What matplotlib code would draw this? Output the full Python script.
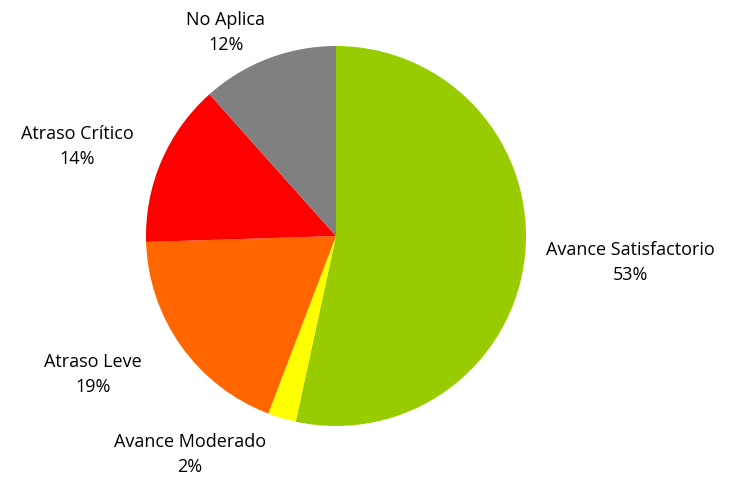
import matplotlib
matplotlib.use("Agg")
from matplotlib import pyplot as plt

categories = ["Avance Satisfactorio", "Avance Moderado", "Atraso Leve", "Atraso Crítico", "No Aplica"]
values = [53.4, 2.4, 18.7, 13.9, 11.6]
colors = ["#99CC00", "#FFFF00", "#FF6600", "#FF0000", "#808080"]

# label centres in data units (pie radius = 1)
label_pos = [(1.55, -0.14), (-0.77, -1.15), (-1.28, -0.73), (-1.36, 0.47), (-0.58, 1.07)]

plt.rcParams['font.family'] = ['Open Sans', 'DejaVu Sans']

fig = plt.figure(figsize=(7.44, 4.8), dpi=100)
ax = fig.add_axes([146 / 744, 54 / 480, 380 / 744, 380 / 480])
ax.pie(values, colors=colors, startangle=90, counterclock=False, radius=1)
ax.set_xlim(-1, 1)
ax.set_ylim(-1, 1)
ax.set_aspect('equal')

total = sum(values)
for name, v, (x, y) in zip(categories, values, label_pos):
    ax.text(x, y, "%s\n%d%%" % (name, round(100 * v / total)), ha='center', va='center',
            fontsize=13, color='black', linespacing=1.5)

plt.savefig("out.png", dpi=100)
